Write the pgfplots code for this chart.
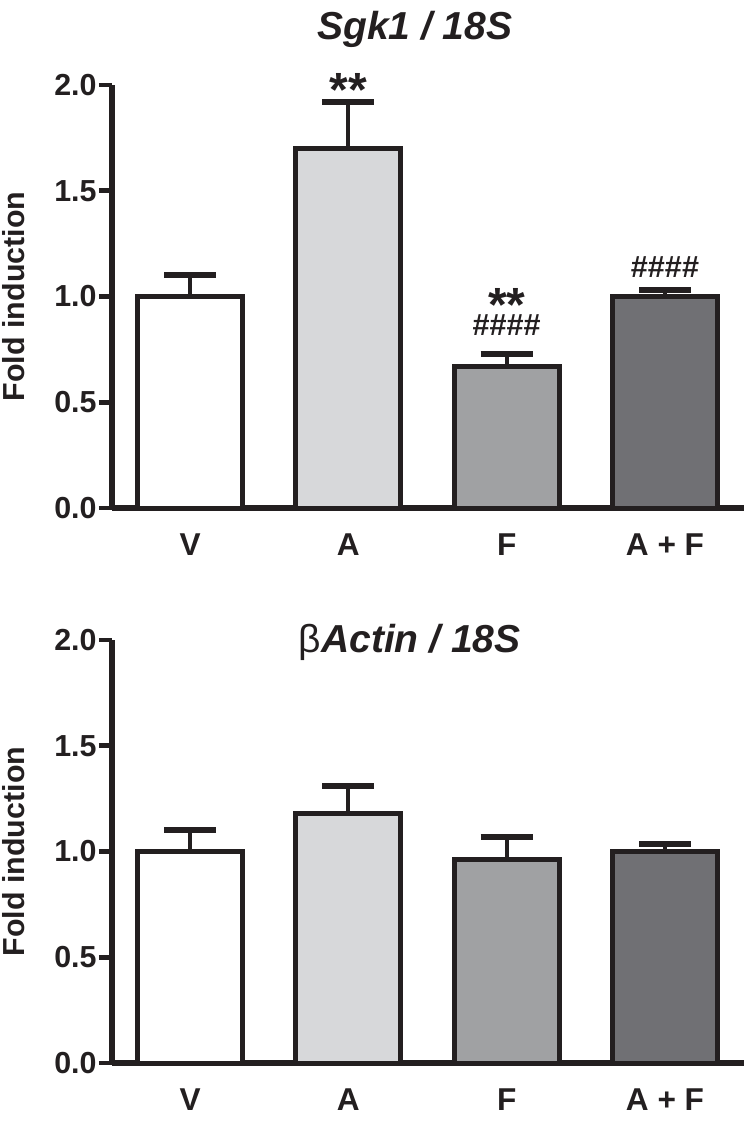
\documentclass[border=0pt]{standalone}
\usepackage{fontspec}
\setmainfont{Liberation Sans}
\newfontfamily\greekserif{Liberation Serif}
\usepackage{pgfplots}
\pgfplotsset{compat=1.18}

\definecolor{edge}{HTML}{231F20}
\definecolor{cA}{HTML}{D7D8DA}
\definecolor{cF}{HTML}{A0A1A3}
\definecolor{cAF}{HTML}{707074}

\pgfplotsset{
  panel/.style={
    scale only axis, width=316pt, height=211.5pt,
    anchor=south west,
    xmin=-0.493, xmax=3.499, ymin=0, ymax=2,
    axis x line=bottom, axis y line=left,
    axis line style={line width=2.6pt, edge, -},
    every tick/.style={line width=2.4pt, edge},
    xtick={0,1,2,3}, xticklabels={V, A, F, A + F},
    major x tick style={draw=none},
    ytick={0,0.5,...,2},
    tick align=outside, major tick length=6.5pt,
    yticklabel={\pgfmathprintnumber[fixed,fixed zerofill,precision=1]{\tick}},
    /pgf/number format/assume math mode=true,
    tick label style={font=\fontsize{15.2}{18}\selectfont\bfseries, text=edge},
    yticklabel style={anchor=east, inner xsep=1pt},
    xticklabel style={anchor=base, yshift=-17pt, font=\fontsize{15.8}{18}\selectfont\bfseries},
    ylabel={Fold induction},
    ylabel style={font=\fontsize{15.2}{18}\selectfont\bfseries, text=edge,
      at={(axis description cs:-0.155,0.5)}, anchor=center},
    ybar, bar width=52.5pt, bar shift=0pt,
    every axis plot/.append style={draw=edge, line width=2.5pt},
    error bars/y dir=plus, error bars/y explicit,
    error bars/error bar style={line width=2pt, edge},
    error bars/error mark options={line width=3pt, mark size=13pt, edge, rotate=90},
    clip=false,
  },
}
\tikzset{
  star/.style={anchor=base, inner sep=0pt, font=\fontsize{24}{24}\selectfont\bfseries, text=edge},
  hash/.style={anchor=base, inner sep=0pt, font=\fontsize{15.3}{16}\selectfont\bfseries, text=edge},
}

\begin{document}
\begin{tikzpicture}
\useasboundingbox (0,0) rectangle (375pt,-561pt);

% upper panel: Sgk1
\begin{axis}[panel, at={(56pt,-254pt)},
  title={Sgk1 / 18S},
  title style={font=\fontsize{19.5}{22}\selectfont\bfseries\itshape, text=edge,
    at={(axis description cs:0.479,1)}, anchor=base, yshift=16.5pt}]
\addplot[fill=white] coordinates {(0,1.00) +- (0,0.10)};
\addplot[fill=cA] coordinates {(1,1.70) +- (0,0.22)};
\addplot[fill=cF] coordinates {(2,0.67) +- (0,0.06)};
\addplot[fill=cAF] coordinates {(3,1.00) +- (0,0.03)};
\node[star] at (axis cs:1,1.90) {**};
\node[star] at (axis cs:2,0.88) {**};
\node[hash] at (axis cs:2,0.815) {\#\#\#\#};
\node[hash] at (axis cs:3,1.092) {\#\#\#\#};
\end{axis}

% lower panel: beta actin
\begin{axis}[panel, at={(56pt,-531.5pt)},
  title={{\greekserif\normalfont β}\bfseries\itshape Actin / 18S},
  title style={font=\fontsize{19.5}{22}\selectfont, text=edge,
    at={(axis description cs:0.471,0.941)}, anchor=base}]
\addplot[fill=white] coordinates {(0,1.00) +- (0,0.10)};
\addplot[fill=cA] coordinates {(1,1.18) +- (0,0.13)};
\addplot[fill=cF] coordinates {(2,0.96) +- (0,0.11)};
\addplot[fill=cAF] coordinates {(3,1.00) +- (0,0.035)};
\end{axis}
\end{tikzpicture}
\end{document}
